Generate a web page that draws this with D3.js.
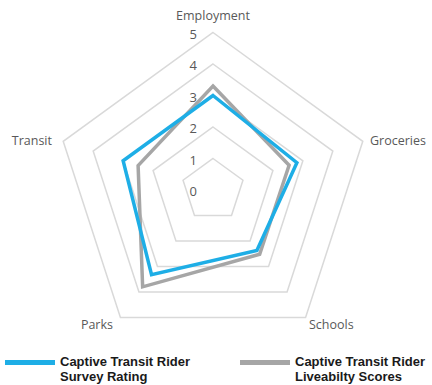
<!DOCTYPE html>
<html><head><meta charset="utf-8">
<script src="https://cdn.jsdelivr.net/npm/d3@7"></script>
<style>body{margin:0;background:#fff}svg{display:block}</style>
</head><body>
<svg id="c" width="432" height="385"></svg>
<script>
const categories = ["Employment", "Groceries", "Schools", "Parks", "Transit"];
const surveyRating = [3.0, 2.8, 2.37, 3.32, 3.0];
const liveabilityScores = [3.3, 2.54, 2.52, 3.8, 2.5];
const ticks = [0, 1, 2, 3, 4, 5];
const seriesNames = [["Captive Transit Rider", "Survey Rating"], ["Captive Transit Rider", "Liveabilty Scores"]];

const svg = d3.select("#c");
const cx = 213, cy = 190, R = 157.5;
const r = d3.scaleLinear().domain([0, 5]).range([0, R]);
const ang = d3.scaleLinear().domain([0, categories.length]).range([0, 2 * Math.PI]);
const pt = (i, v) => [cx + r(v) * Math.sin(ang(i)), cy - r(v) * Math.cos(ang(i))];

// grid rings
ticks.slice(1).forEach(t => {
  svg.append("path")
    .attr("d", d3.line()(categories.map((c, i) => pt(i, t))) + "Z")
    .attr("fill", "none").attr("stroke", "#d9d9d9").attr("stroke-width", 1.5);
});

// tick labels
svg.selectAll("text.tick").data(ticks).join("text")
  .attr("x", cx - 16).attr("y", d => cy - r(d) + 6)
  .attr("text-anchor", "end")
  .attr("font-family", "Open Sans, sans-serif").attr("font-size", 13)
  .attr("fill", "#595959").text(d => d);

// category labels
const labelPos = [
  {x: 213, y: 20, a: "middle"},
  {x: 370, y: 145, a: "start"},
  {x: 309, y: 329, a: "start"},
  {x: 113, y: 329, a: "end"},
  {x: 52, y: 145, a: "end"}
];
svg.selectAll("text.cat").data(categories).join("text")
  .attr("x", (d, i) => labelPos[i].x).attr("y", (d, i) => labelPos[i].y)
  .attr("text-anchor", (d, i) => labelPos[i].a)
  .attr("font-family", "Open Sans, sans-serif").attr("font-size", 12.5)
  .attr("fill", "#595959").text(d => d);

// series
const series = [
  {vals: liveabilityScores, color: "#a6a6a6"},
  {vals: surveyRating, color: "#1eaee6"}
];
series.forEach(s => {
  svg.append("path")
    .attr("d", d3.line()(s.vals.map((v, i) => pt(i, v))) + "Z")
    .attr("fill", "none").attr("stroke", s.color).attr("stroke-width", 3.5)
    .attr("stroke-linejoin", "miter");
});

// legend
const legend = [
  {x: 5, color: "#1eaee6", lines: seriesNames[0]},
  {x: 240, color: "#a6a6a6", lines: seriesNames[1]}
];
legend.forEach(l => {
  svg.append("line").attr("x1", l.x).attr("x2", l.x + 50).attr("y1", 362.5).attr("y2", 362.5)
    .attr("stroke", l.color).attr("stroke-width", 5);
  const t = svg.append("text").attr("font-family", "Liberation Sans, Arial, sans-serif")
    .attr("font-size", 13).attr("font-weight", "bold").attr("fill", "#1a1a1a");
  l.lines.forEach((ln, k) => {
    t.append("tspan").attr("x", l.x + 55).attr("y", 366 + k * 15).text(ln);
  });
});
</script>
</body></html>
